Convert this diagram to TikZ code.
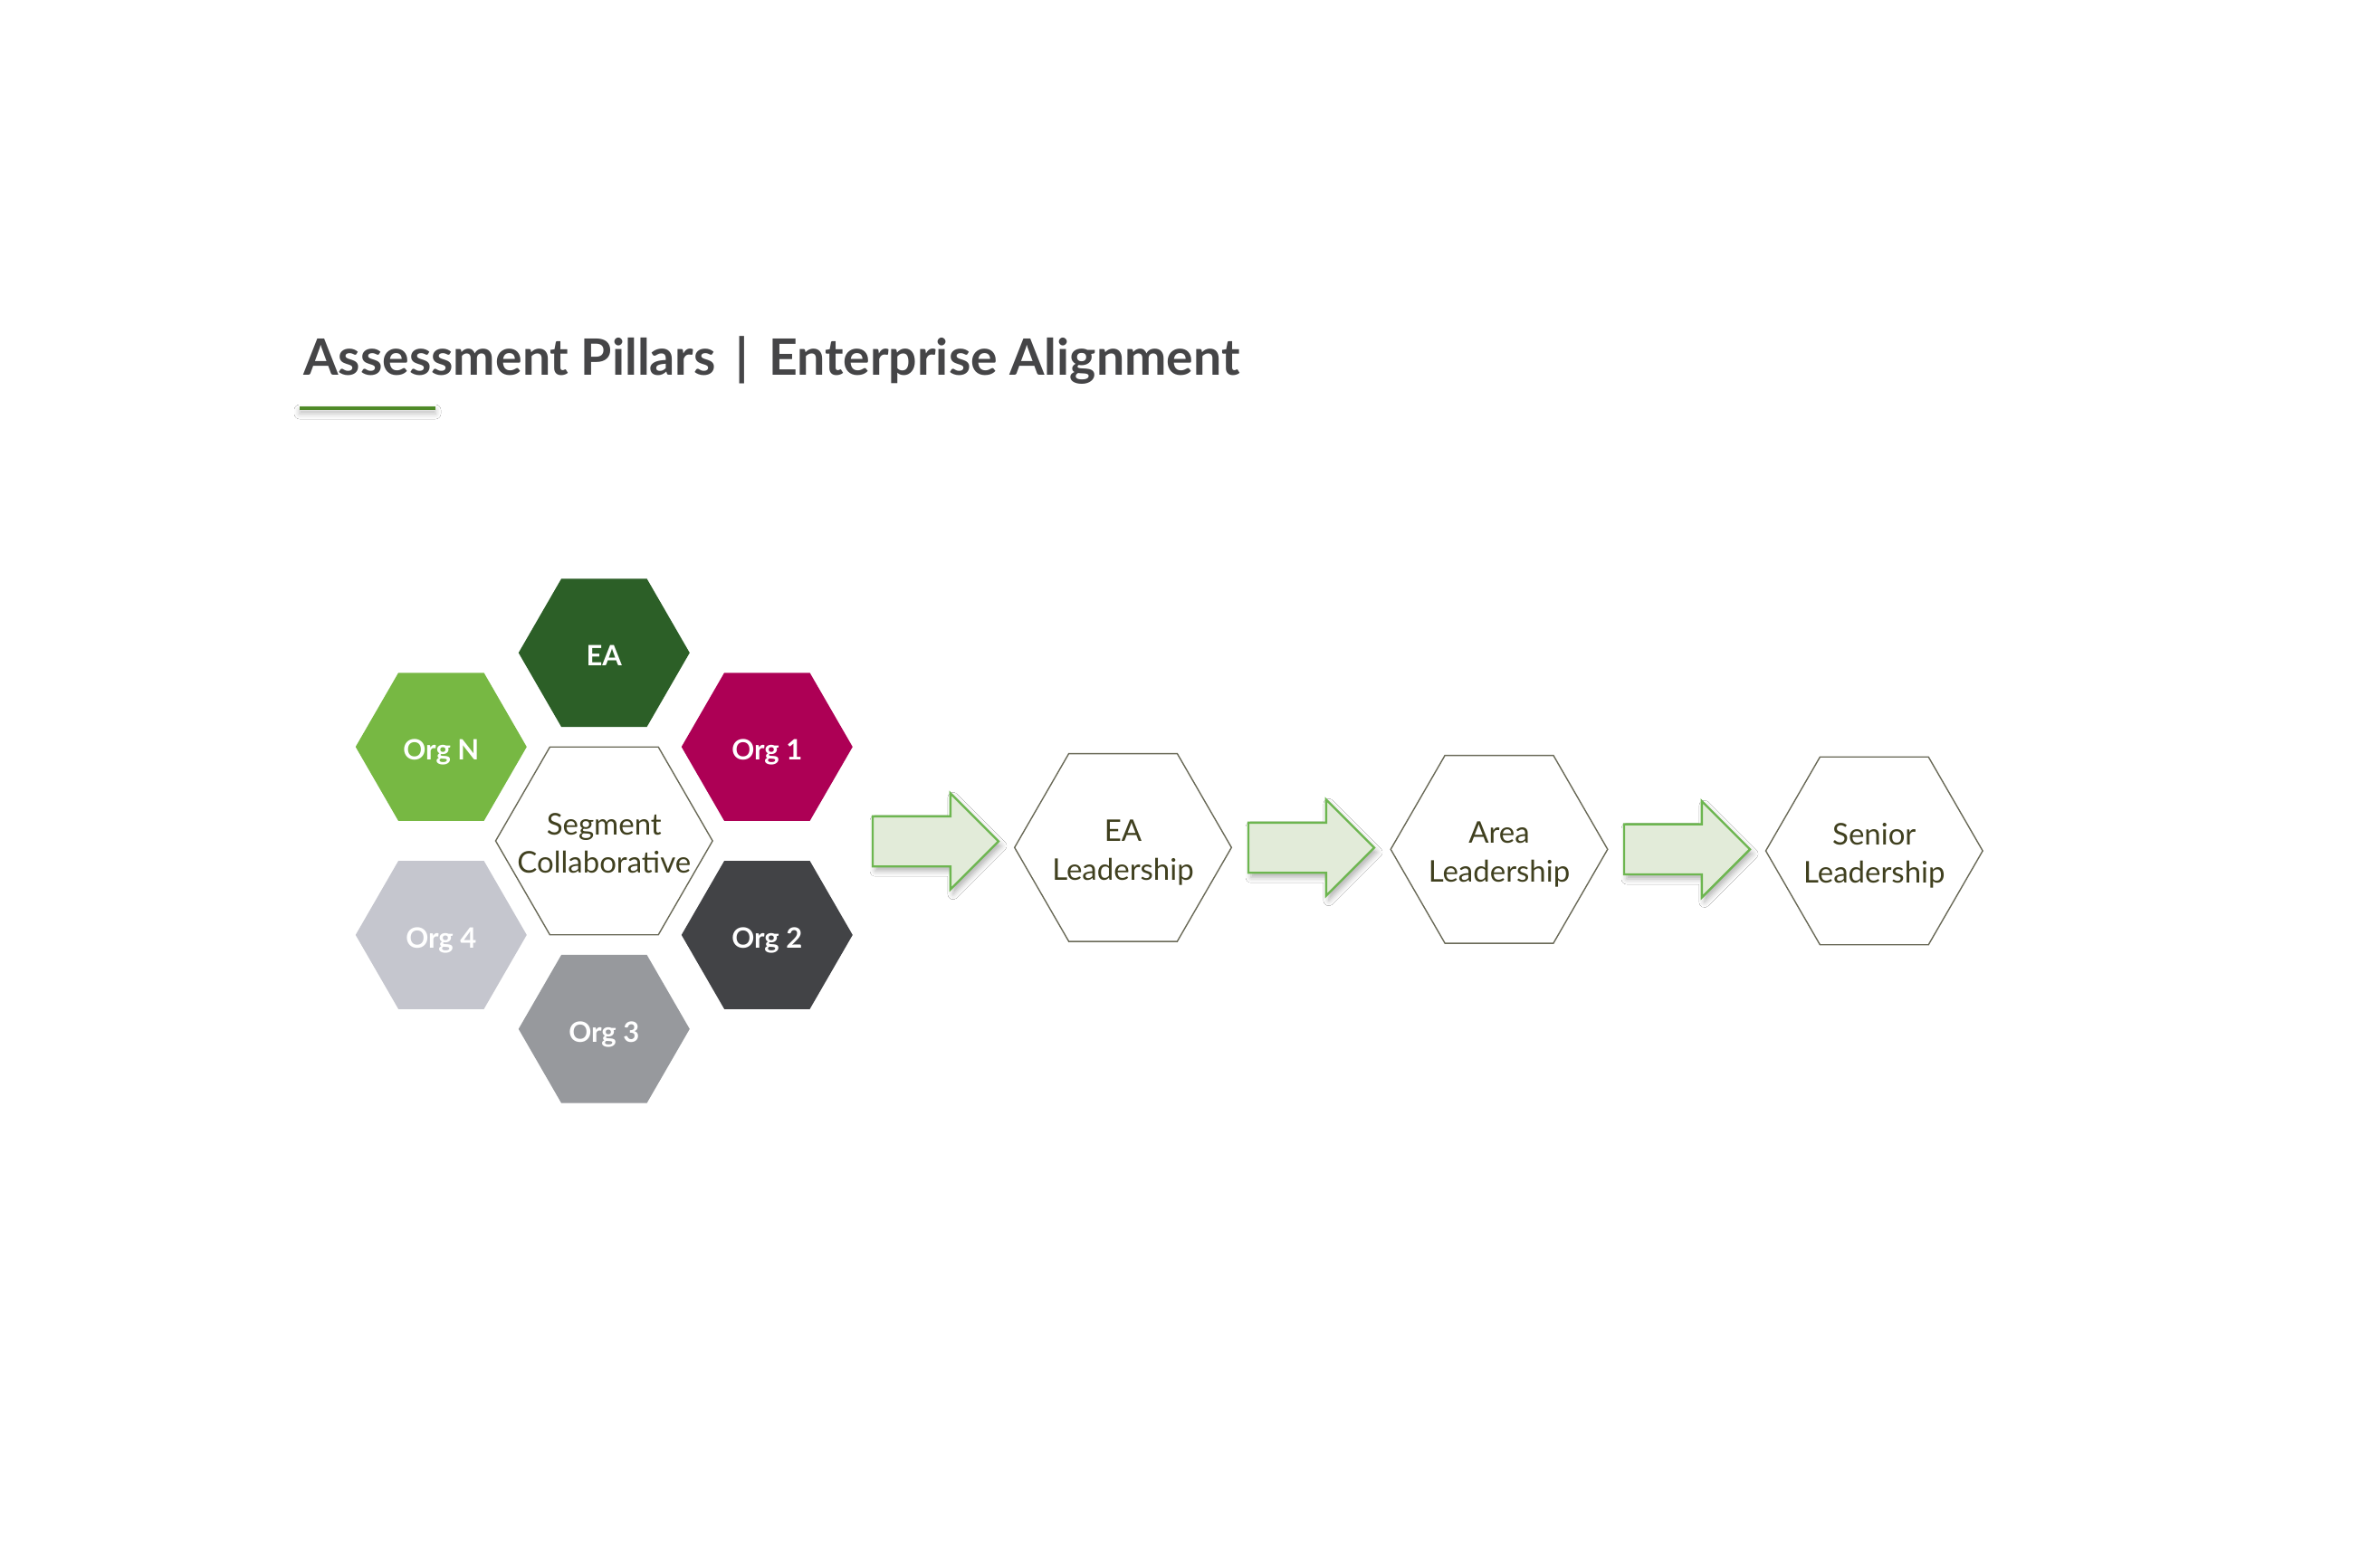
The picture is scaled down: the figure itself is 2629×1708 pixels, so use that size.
\documentclass[tikz,border=0pt]{standalone}
\usepackage{fontspec}
\setmainfont{Lato}
\usetikzlibrary{shapes.geometric,shapes.arrows,shadows.blur}
\definecolor{titlegray}{HTML}{454547}
\definecolor{ulgreen}{HTML}{4F8A28}
\definecolor{eagreen}{HTML}{2C5F27}
\definecolor{orgngreen}{HTML}{77B843}
\definecolor{orgmag}{HTML}{AD0055}
\definecolor{orgdark}{HTML}{424346}
\definecolor{orgmid}{HTML}{97999D}
\definecolor{orglight}{HTML}{C5C6CE}
\definecolor{hexborder}{HTML}{6A6A58}
\definecolor{txtolive}{HTML}{40401F}
\definecolor{arrfill}{HTML}{E2EBD9}
\definecolor{arrdraw}{HTML}{6DB650}
\tikzset{
  hexfill/.style={regular polygon, regular polygon sides=6, minimum size=94.5pt,
    inner sep=0pt, outer sep=0pt, draw=none},
  hexline/.style={regular polygon, regular polygon sides=6, minimum size=119.8pt,
    inner sep=0pt, outer sep=0pt, draw=hexborder, line width=0.7pt, fill=white},
  lbl/.style={text=white, font=\fontsize{15.5}{18}\selectfont\bfseries, inner sep=0pt,
    text height=11.2pt, text depth=0pt, yshift=-1.5pt},
  hextxt/.style={text=txtolive, align=center, font=\fontsize{16.5}{21.2}\selectfont,
    inner sep=0pt, anchor=base, yshift=-17.95pt},
  blockarr/.style={single arrow, single arrow tip angle=90, single arrow head extend=12.75pt,
    text height=13.25pt, text depth=13.25pt, text width=0pt,
    minimum height=69.5pt, inner sep=0pt, outer sep=0pt,
    fill=arrfill, draw=arrdraw, line width=1.2pt, anchor=tail,
    blur shadow={shadow xshift=1.5pt, shadow yshift=-2.5pt, shadow blur radius=3pt, shadow opacity=30}}
}
\begin{document}
\begin{tikzpicture}[x=0.5pt,y=-0.5pt]
\useasboundingbox[fill=white] (0,0) rectangle (2629,1708);

% title
\node[anchor=base west, inner sep=0pt, text=titlegray, font=\fontsize{27.7}{32}\selectfont\bfseries]
  (title) at (335,414) {Assessment Pillars\hspace{4.2pt} | \hspace{4.2pt}Enterprise Alignment};
\fill[ulgreen, blur shadow={shadow xshift=0pt, shadow yshift=-2pt, shadow blur radius=3pt, shadow opacity=25}]
  (331,449) rectangle (481,453);

% cluster
\node[hexline] (seg) at (667.3,929) {};
\node[hextxt] (segt) at (seg) {Segment\\Collaborative};
\node[hexfill, fill=eagreen] (ea) at (667.3,721.2) {};
\node[lbl] (eat) at (ea) {EA};
\node[hexfill, fill=orgngreen] (orgn) at (487.3,825.1) {};
\node[lbl] (orgnt) at (orgn) {Org N};
\node[hexfill, fill=orgmag] (org1) at (847.3,825.1) {};
\node[lbl] (org1t) at (org1) {Org 1};
\node[hexfill, fill=orglight] (org4) at (487.3,1032.9) {};
\node[lbl] (org4t) at (org4) {Org 4};
\node[hexfill, fill=orgdark] (org2) at (847.3,1032.9) {};
\node[lbl] (org2t) at (org2) {Org 2};
\node[hexfill, fill=orgmid] (org3) at (667.3,1136.8) {};
\node[lbl] (org3t) at (org3) {Org 3};

% flow
\node[hexline] (eal) at (1240.5,936.3) {};
\node[hextxt] (ealt) at (eal) {EA\\Leadership};
\node[hexline] (area) at (1656,938.3) {};
\node[hextxt] (areat) at (area) {Area\\Leadership};
\node[hexline] (sen) at (2070.3,940) {};
\node[hextxt] (sent) at (sen) {Senior\\Leadership};

\node[blockarr] (a1) at (964,929.5) {};
\node[blockarr] (a2) at (1379,936.5) {};
\node[blockarr] (a3) at (1794,938.3) {};
\end{tikzpicture}
\end{document}
